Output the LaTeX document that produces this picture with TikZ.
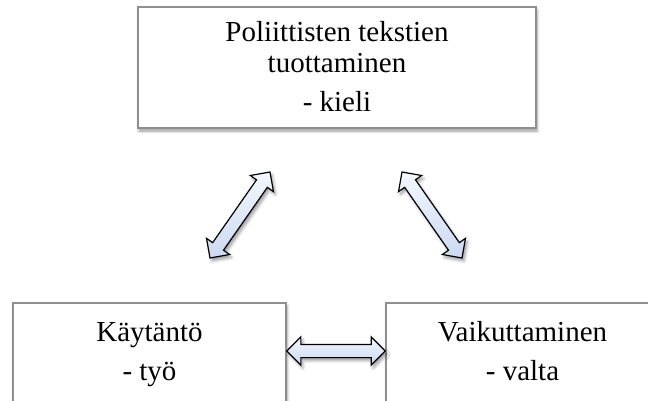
\documentclass[tikz,border=0pt]{standalone}
\usepackage{fontspec}
\setmainfont{Liberation Serif}
\usetikzlibrary{shapes.arrows,shadows.blur,calc}
\definecolor{boxgray}{HTML}{8F8F8F}
\definecolor{arrtop}{HTML}{F4F7FD}
\definecolor{arrbot}{HTML}{CBD9F2}
\tikzset{
  boxnode/.style={draw=boxgray, line width=1.5pt, fill=white, rectangle, inner sep=0pt,
    blur shadow={shadow xshift=1pt, shadow yshift=-3pt, shadow blur radius=3pt, shadow opacity=40}},
  txt/.style={font=\fontsize{29}{31}\selectfont, anchor=base, inner sep=0pt},
  blockarrow/.style={double arrow, draw=black, line width=1.2pt, top color=arrtop, bottom color=arrbot,
    inner xsep=0pt, inner ysep=6pt, minimum width=27pt, double arrow head extend=7.5pt,
    blur shadow={shadow xshift=2pt, shadow yshift=-3pt, shadow blur radius=3pt, shadow opacity=40}}
}
\begin{document}
\begin{tikzpicture}[x=1pt,y=-1pt]
\useasboundingbox (0,0) rectangle (648,401);
% boxes
\node[boxnode, minimum width=398pt, minimum height=121pt] (top) at (337,67.5) {};
\node[boxnode, minimum width=273pt, minimum height=140pt] (left) at (149.5,373) {};
\node[boxnode, minimum width=273pt, minimum height=140pt] (right) at (522.5,373) {};
% texts
\node[txt] (t1) at (337,42) {Poliittisten tekstien};
\node[txt] (t2) at (337,73) {tuottaminen};
\node[txt] (t3) at (337,112) {- kieli};
\node[txt] (l1) at (149.5,341) {Käytäntö};
\node[txt] (l2) at (149.5,380) {- työ};
\node[txt] (r1) at (522.5,341) {Vaikuttaminen};
\node[txt] (r2) at (522.5,380) {- valta};
% arrow end points
\coordinate (a1) at (210,258);
\coordinate (a2) at (270,172);
\coordinate (b1) at (402,172);
\coordinate (b2) at (462,258);
\coordinate (c1) at (left.east |- 0,351);
\coordinate (c2) at (right.west |- 0,351);
% block arrows
\path let \p1=(a1), \p2=(a2), \n1={atan2(\y2-\y1,\x2-\x1)}, \n2={veclen(\x2-\x1,\y2-\y1)} in
  node[blockarrow, minimum height=\n2, rotate=\n1] (arrA) at ($(a1)!0.5!(a2)$) {};
\path let \p1=(b1), \p2=(b2), \n1={atan2(\y2-\y1,\x2-\x1)}, \n2={veclen(\x2-\x1,\y2-\y1)} in
  node[blockarrow, minimum height=\n2, rotate=\n1] (arrB) at ($(b1)!0.5!(b2)$) {};
\path let \p1=(c1), \p2=(c2), \n1={atan2(\y2-\y1,\x2-\x1)}, \n2={veclen(\x2-\x1,\y2-\y1)} in
  node[blockarrow, minimum height=\n2, rotate=\n1] (arrC) at ($(c1)!0.5!(c2)$) {};
\end{tikzpicture}
\end{document}
